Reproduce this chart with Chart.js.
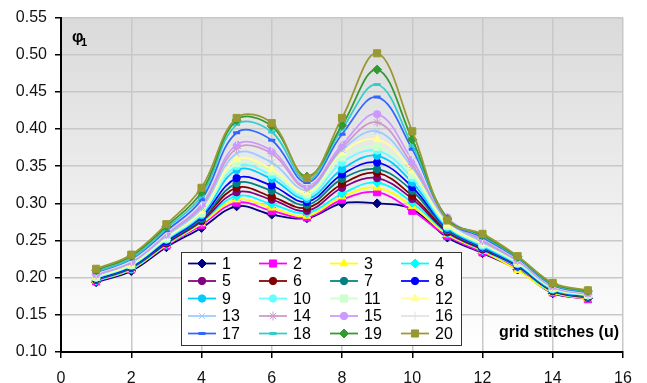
<!DOCTYPE html>
<html>
<head>
<meta charset="utf-8">
<script src="https://cdn.jsdelivr.net/npm/chart.js@4.4.1/dist/chart.umd.min.js"></script>
<style>
  html, body { margin: 0; padding: 0; background: #fff; }
  #wrap { width: 647px; height: 383px; }
</style>
</head>
<body>
<div id="wrap"><canvas id="chart" width="647" height="383"></canvas></div>
<script>
// grid stitches u
const stitches = [1, 2, 3, 4, 5, 6, 7, 8, 9, 10, 11, 12, 13, 14, 15];

// phi1 values, one array per curve
const s1  = [0.194, 0.209, 0.241, 0.267, 0.296, 0.285, 0.280, 0.300, 0.300, 0.292, 0.254, 0.233, 0.211, 0.179, 0.172];
const s2  = [0.195, 0.211, 0.243, 0.271, 0.301, 0.290, 0.281, 0.305, 0.315, 0.290, 0.256, 0.234, 0.212, 0.180, 0.171];
const s3  = [0.196, 0.211, 0.244, 0.273, 0.305, 0.294, 0.283, 0.309, 0.321, 0.296, 0.258, 0.236, 0.210, 0.180, 0.172];
const s4  = [0.196, 0.212, 0.245, 0.275, 0.310, 0.299, 0.287, 0.313, 0.328, 0.301, 0.260, 0.237, 0.214, 0.181, 0.173];
const s5  = [0.197, 0.213, 0.246, 0.276, 0.315, 0.305, 0.290, 0.321, 0.334, 0.306, 0.261, 0.238, 0.215, 0.182, 0.173];
const s6  = [0.198, 0.214, 0.247, 0.278, 0.321, 0.309, 0.294, 0.326, 0.341, 0.310, 0.263, 0.239, 0.216, 0.182, 0.174];
const s7  = [0.198, 0.214, 0.248, 0.279, 0.327, 0.317, 0.298, 0.333, 0.346, 0.317, 0.264, 0.240, 0.216, 0.183, 0.174];
const s8  = [0.199, 0.215, 0.249, 0.282, 0.334, 0.324, 0.302, 0.339, 0.355, 0.322, 0.266, 0.241, 0.217, 0.184, 0.175];
const s9  = [0.200, 0.216, 0.251, 0.284, 0.345, 0.333, 0.306, 0.346, 0.364, 0.328, 0.267, 0.242, 0.218, 0.184, 0.176];
const s10 = [0.200, 0.217, 0.252, 0.286, 0.350, 0.338, 0.309, 0.355, 0.371, 0.334, 0.269, 0.244, 0.219, 0.185, 0.176];
const s11 = [0.201, 0.217, 0.253, 0.287, 0.354, 0.343, 0.312, 0.362, 0.376, 0.338, 0.270, 0.245, 0.220, 0.186, 0.177];
const s12 = [0.202, 0.218, 0.254, 0.290, 0.359, 0.346, 0.315, 0.368, 0.386, 0.344, 0.271, 0.246, 0.221, 0.186, 0.177];
const s13 = [0.203, 0.220, 0.256, 0.293, 0.367, 0.355, 0.318, 0.372, 0.397, 0.348, 0.276, 0.248, 0.222, 0.187, 0.178];
const s14 = [0.204, 0.221, 0.258, 0.296, 0.374, 0.367, 0.321, 0.375, 0.409, 0.352, 0.278, 0.250, 0.223, 0.188, 0.178];
const s15 = [0.205, 0.222, 0.259, 0.299, 0.379, 0.371, 0.324, 0.379, 0.420, 0.358, 0.281, 0.252, 0.224, 0.189, 0.179];
const s16 = [0.206, 0.223, 0.261, 0.302, 0.386, 0.377, 0.326, 0.386, 0.431, 0.365, 0.279, 0.253, 0.225, 0.189, 0.179];
const s17 = [0.207, 0.225, 0.263, 0.305, 0.395, 0.385, 0.328, 0.393, 0.443, 0.373, 0.278, 0.254, 0.226, 0.190, 0.180];
const s18 = [0.208, 0.226, 0.266, 0.310, 0.406, 0.396, 0.331, 0.400, 0.460, 0.378, 0.279, 0.256, 0.227, 0.191, 0.181];
const s19 = [0.210, 0.229, 0.269, 0.315, 0.412, 0.404, 0.336, 0.405, 0.480, 0.386, 0.279, 0.257, 0.228, 0.192, 0.182];
const s20 = [0.212, 0.231, 0.272, 0.321, 0.415, 0.408, 0.334, 0.415, 0.502, 0.397, 0.277, 0.259, 0.229, 0.193, 0.183];

const seriesValues = [s1, s2, s3, s4, s5, s6, s7, s8, s9, s10, s11, s12, s13, s14, s15, s16, s17, s18, s19, s20];
const seriesNames = ['1', '2', '3', '4', '5', '6', '7', '8', '9', '10',
                     '11', '12', '13', '14', '15', '16', '17', '18', '19', '20'];

const xTicks = [0, 2, 4, 6, 8, 10, 12, 14, 16];
const yTicks = [0.10, 0.15, 0.20, 0.25, 0.30, 0.35, 0.40, 0.45, 0.50, 0.55];

// look of each curve: colour, marker, marker size
const colors = ['#000080', '#ff00ff', '#ffff00', '#00ffff', '#800080', '#800000', '#008080', '#0000ff',
                '#00ccff', '#66ffff', '#ccffcc', '#ffff99', '#99ccff', '#cc99cc', '#cc99ff', '#e3e3e3',
                '#3366ff', '#33cccc', '#339933', '#999933'];
const markers = ['rectRot', 'rect', 'triangle', 'rectRot', 'circle', 'circle', 'circle', 'circle',
                 'circle', 'circle', 'rect', 'triangle', 'crossRot', 'star', 'circle', 'cross',
                 'line', 'line', 'rectRot', 'rect'];
const markerSize = {rectRot: 4.5, rect: 5, triangle: 4.5, circle: 3.7, crossRot: 4, star: 4.5, cross: 4.5, line: 3.5};

const FONT = '"Liberation Sans", Arial, sans-serif';

const datasets = seriesValues.map((vals, i) => ({
  label: seriesNames[i],
  data: stitches.map((u, j) => ({x: u, y: vals[j]})),
  borderColor: colors[i],
  backgroundColor: colors[i],
  borderWidth: 1.75,
  pointStyle: markers[i],
  pointRadius: markerSize[markers[i]],
  pointBackgroundColor: colors[i],
  pointBorderColor: colors[i],
  pointBorderWidth: markers[i] === 'line' ? 3 : 1,
  tension: 0.38,
  order: seriesValues.length - i
}));

// grey-to-white fill behind the plot
const plotFill = {
  id: 'plotFill',
  beforeDraw(chart) {
    const {ctx, chartArea: a} = chart;
    const g = ctx.createLinearGradient(0, a.top, 0, a.bottom);
    g.addColorStop(0, '#dadada');
    g.addColorStop(1, '#ffffff');
    ctx.save();
    ctx.fillStyle = g;
    ctx.fillRect(a.left, a.top, a.right - a.left, a.bottom - a.top);
    ctx.restore();
  }
};

// boxed legend in 4 columns inside the plot, plus the axis captions
const boxLegend = {
  id: 'boxLegend',
  afterDraw(chart) {
    const ctx = chart.ctx;
    const a = chart.chartArea;
    ctx.save();

    // phi_1 caption
    ctx.fillStyle = '#000';
    ctx.textBaseline = 'alphabetic';
    ctx.textAlign = 'left';
    ctx.font = 'bold 16px ' + FONT;
    ctx.fillText('φ', a.left + 11, a.top + 24);
    ctx.font = 'bold 11px ' + FONT;
    ctx.fillText('1', a.left + 20, a.top + 28);

    // x caption
    ctx.font = 'bold 16px ' + FONT;
    ctx.textAlign = 'right';
    ctx.fillText('grid stitches (u)', a.right - 4, a.bottom - 15);

    // legend box
    const bx = 181, by = 252, bw = 280, bh = 93;
    ctx.fillStyle = '#fff';
    ctx.fillRect(bx, by, bw, bh);
    ctx.strokeStyle = '#333';
    ctx.lineWidth = 1;
    ctx.strokeRect(bx + 0.5, by + 0.5, bw, bh);

    ctx.font = '16px ' + FONT;
    ctx.textAlign = 'left';
    ctx.textBaseline = 'middle';
    chart.data.datasets.forEach((ds, i) => {
      const col = i % 4, row = Math.floor(i / 4);
      const x0 = bx + 7 + col * 71;
      const yc = by + 11.5 + row * 17.5;
      ctx.strokeStyle = ds.borderColor;
      ctx.lineWidth = 1.75;
      ctx.beginPath();
      ctx.moveTo(x0, yc);
      ctx.lineTo(x0 + 28, yc);
      ctx.stroke();
      ctx.fillStyle = ds.pointBackgroundColor;
      ctx.strokeStyle = ds.pointBorderColor;
      ctx.lineWidth = ds.pointBorderWidth;
      Chart.helpers.drawPoint(ctx, {pointStyle: ds.pointStyle, radius: ds.pointRadius, rotation: 0, borderWidth: ds.pointBorderWidth}, x0 + 14, yc);
      ctx.fillStyle = '#000';
      ctx.fillText(ds.label, x0 + 34, yc + 1);
    });
    ctx.restore();
  }
};

new Chart(document.getElementById('chart'), {
  type: 'line',
  data: {datasets: datasets},
  options: {
    responsive: false,
    animation: false,
    devicePixelRatio: 1,
    layout: {padding: {top: 8, right: 24, left: 0, bottom: 0}},
    plugins: {legend: {display: false}, tooltip: {enabled: false}},
    scales: {
      x: {
        type: 'linear',
        min: 0, max: 16,
        afterBuildTicks(scale) { scale.ticks = xTicks.map(v => ({value: v})); },
        afterFit(scale) { scale.height = 31; },
        grid: {color: '#c8c8c8', lineWidth: 1.5, tickColor: '#000', tickLength: 6, drawTicks: true},
        border: {color: '#000', width: 2},
        ticks: {color: '#111', padding: 11, maxRotation: 0, font: {family: FONT, size: 16},
                callback: v => String(v)}
      },
      y: {
        min: 0.10, max: 0.55,
        afterBuildTicks(scale) { scale.ticks = yTicks.map(v => ({value: v})); },
        afterFit(scale) { scale.width = 61; },
        grid: {color: '#c8c8c8', lineWidth: 1.5, tickColor: '#000', tickLength: 6},
        border: {color: '#000', width: 2},
        ticks: {color: '#111', padding: 8, font: {family: FONT, size: 16},
                callback: v => v.toFixed(2)}
      }
    }
  },
  plugins: [plotFill, boxLegend]
});
</script>
</body>
</html>
